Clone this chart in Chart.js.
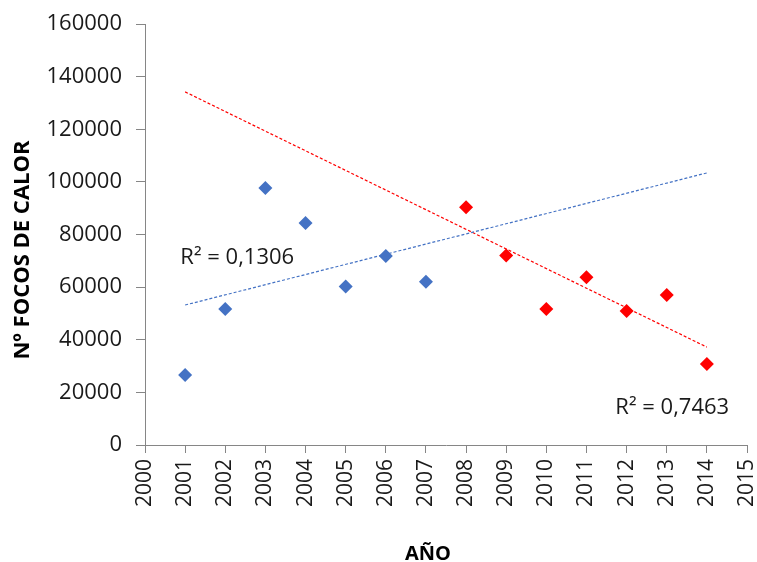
<!DOCTYPE html>
<html>
<head>
<meta charset="utf-8">
<script src="https://cdn.jsdelivr.net/npm/chart.js@4"></script>
<style>
  html, body { margin: 0; padding: 0; background: #fff; }
  #wrap { width: 757px; height: 562px; position: relative; }
</style>
</head>
<body>
<div id="wrap"><canvas id="chart"></canvas></div>
<script>
// Datos
const yearsA = [2001, 2002, 2003, 2004, 2005, 2006, 2007];
const focosA = [26600, 51700, 97700, 84400, 60200, 71800, 62000];
const yearsB = [2008, 2009, 2010, 2011, 2012, 2013, 2014];
const focosB = [90400, 72000, 51700, 63800, 50900, 57000, 30800];

// Líneas de tendencia (extremos)
const trendYears = [2001, 2014];
const trendA = [53200, 103400];
const trendB = [134200, 37200];

const r2Labels = ['R² = 0,1306', 'R² = 0,7463'];
const xTitle = 'AÑO';
const yTitle = 'Nº FOCOS DE CALOR';

const BLUE = '#4472C4';
const RED = '#FF0000';
const AXIS = '#868686';
const TEXT = '#1a1a1a';
const FONT = '"Open Sans", "Liberation Sans", sans-serif';

const toPts = (xs, ys) => xs.map((x, i) => ({ x: x, y: ys[i] }));

// Etiquetas R² y títulos de ejes
const labelsPlugin = {
    id: 'labels',
    afterDatasetsDraw(chart) {
        const ctx = chart.ctx;
        const xs = chart.scales.x, ys = chart.scales.y;
        ctx.save();
        ctx.fillStyle = TEXT;
        ctx.font = '22px ' + FONT;
        ctx.textBaseline = 'middle';
        ctx.textAlign = 'left';
        ctx.fillText(r2Labels[0], xs.getPixelForValue(2000.88), ys.getPixelForValue(71200));
        ctx.fillText(r2Labels[1], xs.getPixelForValue(2011.72), ys.getPixelForValue(14300));

        ctx.fillStyle = '#000';
        ctx.font = 'bold 20px ' + FONT;
        ctx.textAlign = 'center';
        ctx.fillText(xTitle, 428, 554);

        ctx.translate(23, 250);
        ctx.rotate(-Math.PI / 2);
        ctx.font = 'bold 22px ' + FONT;
        ctx.fillText(yTitle, 0, 0);
        ctx.restore();
    }
};

new Chart(document.getElementById('chart'), {
    type: 'scatter',
    data: {
        datasets: [
            {
                label: 'A',
                data: toPts(yearsA, focosA),
                backgroundColor: BLUE,
                borderColor: BLUE,
                pointStyle: 'rectRot',
                pointRadius: 7,
                borderWidth: 0
            },
            {
                label: 'B',
                data: toPts(yearsB, focosB),
                backgroundColor: RED,
                borderColor: RED,
                pointStyle: 'rectRot',
                pointRadius: 7,
                borderWidth: 0
            },
            {
                type: 'line',
                label: 'Tendencia A',
                data: toPts(trendYears, trendA),
                borderColor: BLUE,
                borderWidth: 1.2,
                borderDash: [3, 2],
                pointRadius: 0,
                fill: false
            },
            {
                type: 'line',
                label: 'Tendencia B',
                data: toPts(trendYears, trendB),
                borderColor: RED,
                borderWidth: 1.2,
                borderDash: [3, 2],
                pointRadius: 0,
                fill: false
            }
        ]
    },
    options: {
        responsive: true,
        maintainAspectRatio: false,
        animation: false,
        layout: { padding: { left: 0, right: 10, top: 24, bottom: 0 } },
        plugins: {
            legend: { display: false },
            tooltip: { enabled: false }
        },
        scales: {
            x: {
                type: 'linear',
                min: 2000,
                max: 2015,
                afterFit: s => { s.height = 117; s.paddingLeft = 0; s.paddingRight = 0; },
                border: { color: AXIS, width: 1 },
                grid: { drawOnChartArea: false, drawTicks: true, tickLength: 8, color: AXIS },
                ticks: {
                    stepSize: 1,
                    color: TEXT,
                    font: { family: FONT, size: 21 },
                    minRotation: 90,
                    maxRotation: 90,
                    padding: 6,
                    callback: v => String(v)
                }
            },
            y: {
                min: 0,
                max: 160000,
                afterFit: s => { s.width = 145; s.paddingTop = 0; s.paddingBottom = 0; },
                border: { color: AXIS, width: 1 },
                grid: { drawOnChartArea: false, drawTicks: true, tickLength: 9, color: AXIS },
                ticks: {
                    stepSize: 20000,
                    color: TEXT,
                    font: { family: FONT, size: 22 },
                    padding: 14,
                    callback: v => String(v)
                }
            }
        }
    },
    plugins: [labelsPlugin]
});
</script>
</body>
</html>
